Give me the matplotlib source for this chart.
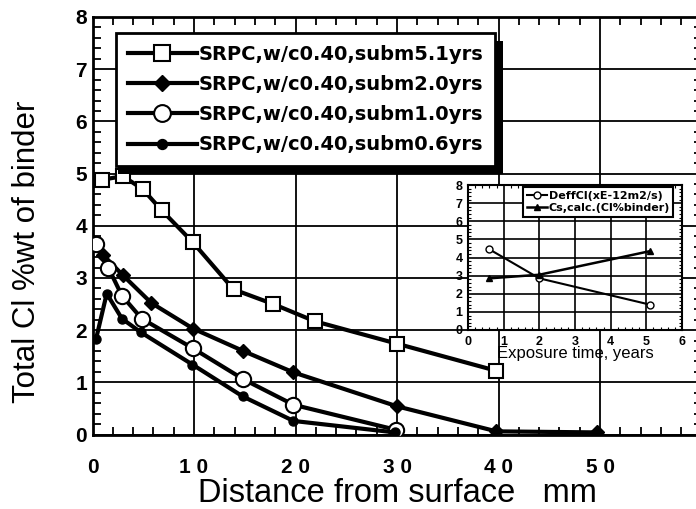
import matplotlib
matplotlib.use('Agg')
import matplotlib.pyplot as plt
from matplotlib.patches import Rectangle
from matplotlib.ticker import MultipleLocator

# chloride profiles: distance from surface (mm) vs total Cl (% wt of binder)
x_5_1 = [0.9, 3.0, 4.95, 6.8, 9.9, 13.9, 17.8, 21.9, 30.0, 39.8]
cl_5_1 = [4.88, 4.95, 4.7, 4.3, 3.68, 2.78, 2.5, 2.17, 1.74, 1.22]

x_2_0 = [1.05, 3.0, 5.8, 9.9, 14.85, 19.8, 30.0, 39.8, 49.7]
cl_2_0 = [3.44, 3.05, 2.52, 2.03, 1.6, 1.19, 0.54, 0.06, 0.04]

x_1_0 = [0.3, 1.55, 2.9, 4.85, 9.9, 14.85, 19.8, 29.9]
cl_1_0 = [3.65, 3.2, 2.66, 2.22, 1.65, 1.06, 0.57, 0.09]

x_0_6 = [0.35, 1.4, 2.9, 4.75, 9.85, 14.8, 19.8, 29.8]
cl_0_6 = [1.83, 2.7, 2.22, 1.96, 1.34, 0.73, 0.26, 0.04]

labels = ['SRPC,w/c0.40,subm5.1yrs', 'SRPC,w/c0.40,subm2.0yrs',
          'SRPC,w/c0.40,subm1.0yrs', 'SRPC,w/c0.40,subm0.6yrs']

xticks = [0, 10, 20, 30, 40, 50, 60]
xticklabels = ['0', '1 0', '2 0', '3 0', '4 0', '5 0', '']
yticks = [0, 1, 2, 3, 4, 5, 6, 7, 8]

# inset: exposure time (years)
t_exp = [0.6, 2.0, 5.1]
deff = [4.45, 2.85, 1.4]
cs_calc = [2.85, 3.05, 4.35]
inset_labels = ['DeffCl(xE-12m2/s)', 'Cs,calc.(Cl%binder)']

W, H = 696, 509
fig = plt.figure(figsize=(W / 100, H / 100), dpi=100)
fig.patch.set_facecolor('white')

ax = fig.add_axes([92.5 / W, 1 - 434.5 / H, 609 / W, 417.5 / H])
ax.set_xlim(0, 60)
ax.set_ylim(0, 8)

lw = 3.0
h1, = ax.plot(x_5_1, cl_5_1, '-s', color='k', lw=lw, ms=10, mfc='white', mec='k', mew=1.5, zorder=3)
h2, = ax.plot(x_2_0, cl_2_0, '-D', color='k', lw=lw, ms=7, mfc='k', mec='k', zorder=3)
h3, = ax.plot(x_1_0, cl_1_0, '-o', color='k', lw=lw, ms=11, mfc='white', mec='k', mew=1.5, zorder=4)
h4, = ax.plot(x_0_6, cl_0_6, '-o', color='k', lw=lw, ms=6.5, mfc='k', mec='k', zorder=5)

ax.set_xticks(xticks)
ax.set_xticklabels(xticklabels)
ax.set_yticks(yticks)
ax.xaxis.set_minor_locator(MultipleLocator(2))
ax.yaxis.set_minor_locator(MultipleLocator(0.2))
ax.grid(True, which='major', color='k', lw=1.3)
ax.tick_params(which='both', direction='in', top=True, right=True, color='k')
ax.tick_params(which='major', length=0)
ax.tick_params(which='minor', length=6, width=1.3)
ax.tick_params(axis='x', which='major', pad=17)
ax.tick_params(axis='y', which='major', pad=4)
for lab in ax.get_xticklabels() + ax.get_yticklabels():
    lab.set_fontfamily('Liberation Sans')
    lab.set_fontweight('bold')
    lab.set_fontsize(15)
for sp in ax.spines.values():
    sp.set_linewidth(2)

fig.text(27 / W, 1 - 252 / H, 'Total Cl %wt of binder', rotation=90,
         ha='center', va='center', fontsize=22.5, family='Liberation Sans')
fig.text(397 / W, 1 - 494 / H, 'Distance from surface   mm',
         ha='center', va='center', fontsize=23.5, family='Liberation Sans')

# legend with heavy drop shadow
leg = ax.legend([h1, h2, h3, h4], labels, loc='upper left',
                bbox_to_anchor=(116 / W, 1 - 33 / H), bbox_transform=fig.transFigure,
                prop={'family': 'DejaVu Sans', 'weight': 'bold', 'size': 14},
                handlelength=3.55, handletextpad=0.1, labelspacing=0.58,
                borderpad=0.6, borderaxespad=0, fancybox=False,
                framealpha=1, edgecolor='k', markerscale=1.1)
leg.get_frame().set_linewidth(2)
leg.set_zorder(10)

# inset
ins = fig.add_axes([468 / W, 1 - 330 / H, 214 / W, 145 / H])
ins.set_facecolor('white')
g1, = ins.plot(t_exp, deff, '-o', color='k', lw=1.5, ms=5, mfc='white', mec='k')
g2, = ins.plot(t_exp, cs_calc, '-^', color='k', lw=1.8, ms=5, mfc='k', mec='k')
ins.set_xlim(0, 6)
ins.set_ylim(0, 8)
ins.set_xticks(range(0, 7))
ins.set_yticks(range(0, 9))
ins.xaxis.set_minor_locator(MultipleLocator(0.2))
ins.yaxis.set_minor_locator(MultipleLocator(0.2))
ins.grid(True, which='major', color='k', lw=1.2)
ins.tick_params(which='both', direction='in', top=True, right=True)
ins.tick_params(which='major', length=0, pad=4)
ins.tick_params(which='minor', length=2.5, width=0.8)
for lab in ins.get_xticklabels() + ins.get_yticklabels():
    lab.set_fontfamily('Liberation Sans')
    lab.set_fontweight('bold')
    lab.set_fontsize(9)
for sp in ins.spines.values():
    sp.set_linewidth(1.5)
ins.set_xlabel('Exposure time, years', fontsize=12, family='Liberation Sans', labelpad=-1)
ileg = ins.legend([g1, g2], inset_labels, loc='upper right', bbox_to_anchor=(0.96, 0.985),
                  prop={'family': 'DejaVu Sans', 'weight': 'bold', 'size': 8},
                  handlelength=1.8, handletextpad=0.2, labelspacing=0.25,
                  borderpad=0.3, borderaxespad=0, fancybox=False,
                  framealpha=1, edgecolor='k')
ileg.get_frame().set_linewidth(1.5)

# shadow behind the main legend (pixel coords, so draw once first)
fig.canvas.draw()
bb = leg.get_window_extent()
ax.add_artist(Rectangle((bb.x0 + 2, bb.y0 - 8), bb.width + 6, bb.height, transform=None,
                        facecolor='k', edgecolor='none', zorder=9, clip_on=False))

fig.savefig('out.png', dpi=100, facecolor='white')
